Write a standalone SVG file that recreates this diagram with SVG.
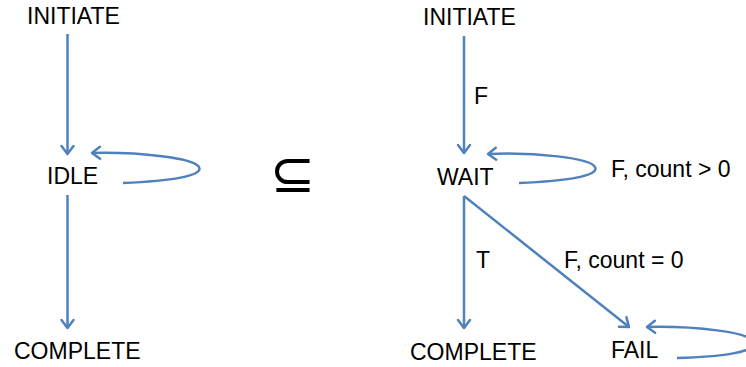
<svg xmlns="http://www.w3.org/2000/svg" width="746" height="367" viewBox="0 0 746 367">
<defs>
<style>
text{font-family:"Liberation Sans",Arial,sans-serif;font-size:23px;fill:#000}
.sym{font-family:"DejaVu Sans",sans-serif;font-size:54px}
.c{fill:none;stroke:#4f81bd;stroke-width:2.5;marker-end:url(#arr)}
</style>
<marker id="arr" markerWidth="14" markerHeight="14" refX="10" refY="7" orient="auto" markerUnits="userSpaceOnUse" overflow="visible">
<path d="M2,1 L10,7 L2,13" fill="none" stroke="#4f81bd" stroke-width="2.5" stroke-linecap="round" stroke-linejoin="round"/>
</marker>
</defs>
<rect width="746" height="367" fill="#fff"/>
<g id="connectors">
<path class="c" d="M67.5,34 L67.5,154"/>
<path class="c" d="M67.5,195 L67.5,328"/>
<path class="c" d="M123,183 C170,181 204,176 199,167 C194,158 140,152 92,153"/>
<path class="c" d="M464,36 L464,153"/>
<path class="c" d="M519,183 C566,181 600,176 595,167 C590,158 536,152 488,154"/>
<path class="c" d="M464,196 L464,328"/>
<path class="c" d="M464,196 L629,327"/>
<path class="c" d="M677,358 C720,357 758,352 754,342 C750,332 695,326 647,327"/>
</g>
<g id="labels">
<text x="474" y="104">F</text>
<text x="611" y="177">F, count &gt; 0</text>
<text x="476" y="268">T</text>
<text x="564" y="268">F, count = 0</text>
</g>
<g id="initiate-left"><text x="27" y="24">INITIATE</text></g>
<g id="idle"><text x="47" y="184">IDLE</text></g>
<g id="complete-left"><text x="14" y="359">COMPLETE</text></g>
<g id="subset"><text class="sym" x="270" y="192">⊆</text></g>
<g id="initiate-right"><text x="423" y="25">INITIATE</text></g>
<g id="wait"><text x="437" y="185">WAIT</text></g>
<g id="complete-right"><text x="410" y="360">COMPLETE</text></g>
<g id="fail"><text x="611" y="358">FAIL</text></g>
</svg>
